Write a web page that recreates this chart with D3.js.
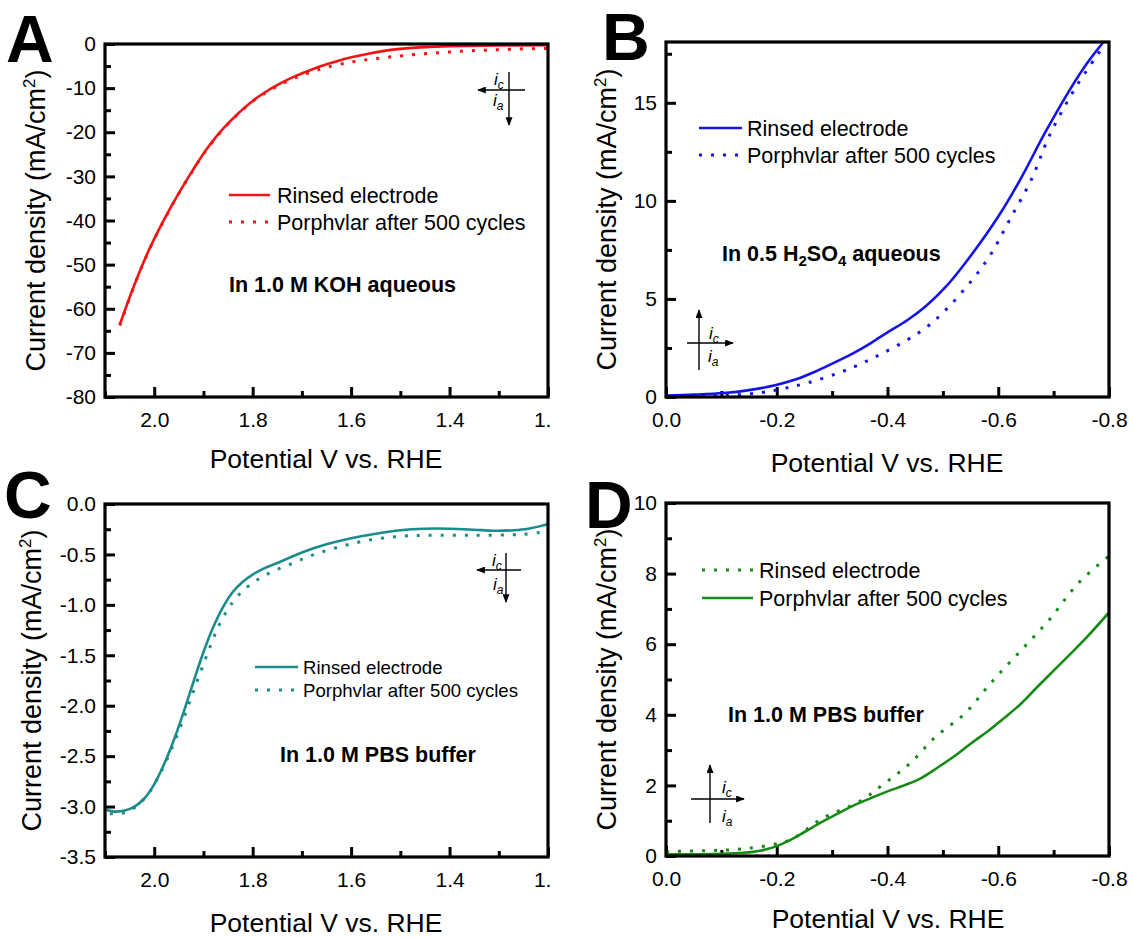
<!DOCTYPE html>
<html><head><meta charset="utf-8">
<script src="https://cdn.jsdelivr.net/npm/d3@7"></script>
<style>
body{margin:0;background:#fff}
svg{font-family:"Liberation Sans",Arial,Helvetica,sans-serif}
</style></head><body>
<svg id="fig" width="1133" height="938"></svg>
<script>
// ---------------- data ----------------
const xTicksAC = [2.0, 1.8, 1.6, 1.4, 1.2];
const xMinorAC = [2.1, 1.9, 1.7, 1.5, 1.3];
const xTicksBD = [0, -0.2, -0.4, -0.6, -0.8];
const xMinorBD = [-0.1, -0.3, -0.5, -0.7];
const yTicksA = [0, -10, -20, -30, -40, -50, -60, -70, -80];
const yMinorA = [-5, -15, -25, -35, -45, -55, -65, -75];
const yTicksB = [0, 5, 10, 15];
const yMinorB = [2.5, 7.5, 12.5, 17.5];
const yTicksC = [0, -0.5, -1.0, -1.5, -2.0, -2.5, -3.0, -3.5];
const yMinorC = [-0.25, -0.75, -1.25, -1.75, -2.25, -2.75, -3.25];
const yTicksD = [0, 2, 4, 6, 8, 10];
const yMinorD = [1, 3, 5, 7, 9];

// Panel A: 1.0 M KOH  [V vs RHE, mA/cm2]
const aRinsed = [[2.07,-63.6],[2.04,-54.5],[2.01,-46.5],[1.98,-39.8],[1.95,-33.8],[1.92,-28.3],[1.89,-23.3],[1.86,-19.2],[1.83,-15.8],[1.8,-12.9],[1.77,-10.6],[1.74,-8.7],[1.71,-7.1],[1.68,-5.8],[1.65,-4.6],[1.62,-3.6],[1.59,-2.8],[1.56,-2.1],[1.53,-1.5],[1.5,-1.1],[1.45,-0.7],[1.4,-0.5],[1.3,-0.35],[1.2,-0.3]];
const aPorph = [[2.07,-63.8],[2.04,-54.6],[2.01,-46.6],[1.98,-39.9],[1.95,-33.9],[1.92,-28.4],[1.89,-23.4],[1.86,-19.3],[1.83,-15.9],[1.8,-13.0],[1.77,-10.8],[1.74,-9.0],[1.71,-7.5],[1.68,-6.3],[1.65,-5.3],[1.6,-4.1],[1.55,-3.3],[1.5,-2.7],[1.45,-2.2],[1.4,-1.8],[1.35,-1.5],[1.3,-1.3],[1.25,-1.1],[1.2,-1.0]];
// Panel B: 0.5 H2SO4
const bRinsed = [[0,0.08],[-0.05,0.12],[-0.105,0.2],[-0.15,0.35],[-0.197,0.6],[-0.235,0.9],[-0.27,1.3],[-0.3,1.7],[-0.336,2.2],[-0.37,2.75],[-0.4,3.3],[-0.435,3.9],[-0.468,4.6],[-0.508,5.7],[-0.553,7.3],[-0.6,9.2],[-0.64,11.1],[-0.685,13.5],[-0.73,15.7],[-0.76,17.0],[-0.79,18.1]];
const bPorph = [[0,0.03],[-0.05,0.04],[-0.105,0.07],[-0.171,0.22],[-0.215,0.45],[-0.257,0.73],[-0.309,1.2],[-0.345,1.6],[-0.382,2.1],[-0.435,2.9],[-0.47,3.55],[-0.502,4.35],[-0.553,5.97],[-0.587,7.3],[-0.62,9.0],[-0.66,11.1],[-0.692,13.3],[-0.738,15.7],[-0.778,17.4],[-0.79,17.9]];
// Panel C: 1.0 M PBS (anodic)
const cRinsed = [[2.1,-3.03],[2.08,-3.05],[2.06,-3.04],[2.04,-3.0],[2.02,-2.92],[2.0,-2.78],[1.98,-2.58],[1.96,-2.34],[1.94,-2.06],[1.92,-1.76],[1.9,-1.47],[1.88,-1.22],[1.86,-1.02],[1.84,-0.87],[1.82,-0.77],[1.8,-0.7],[1.78,-0.645],[1.75,-0.585],[1.7,-0.48],[1.65,-0.4],[1.6,-0.34],[1.55,-0.295],[1.5,-0.26],[1.45,-0.245],[1.4,-0.245],[1.35,-0.255],[1.31,-0.265],[1.27,-0.26],[1.24,-0.245],[1.2,-0.2]];
const cPorph = [[2.09,-3.07],[2.07,-3.07],[2.05,-3.04],[2.03,-2.97],[2.01,-2.86],[1.99,-2.69],[1.97,-2.49],[1.95,-2.25],[1.93,-1.99],[1.91,-1.72],[1.89,-1.46],[1.87,-1.22],[1.85,-1.04],[1.83,-0.91],[1.81,-0.82],[1.79,-0.75],[1.76,-0.67],[1.72,-0.59],[1.68,-0.51],[1.62,-0.42],[1.56,-0.355],[1.5,-0.32],[1.45,-0.31],[1.35,-0.31],[1.25,-0.3],[1.2,-0.27]];
// Panel D: 1.0 M PBS (cathodic)
const dRinsed = [[0,0.13],[-0.072,0.15],[-0.138,0.2],[-0.204,0.36],[-0.23,0.5],[-0.283,1.07],[-0.349,1.54],[-0.395,2.06],[-0.441,2.63],[-0.487,3.38],[-0.54,4.04],[-0.586,4.89],[-0.639,5.79],[-0.692,6.69],[-0.744,7.72],[-0.8,8.5]];
const dPorph = [[0,0.05],[-0.05,0.05],[-0.1,0.06],[-0.14,0.09],[-0.17,0.15],[-0.2,0.28],[-0.22,0.42],[-0.25,0.68],[-0.28,0.95],[-0.31,1.2],[-0.34,1.44],[-0.37,1.64],[-0.4,1.83],[-0.43,2.0],[-0.46,2.2],[-0.49,2.5],[-0.52,2.82],[-0.55,3.18],[-0.58,3.52],[-0.61,3.9],[-0.64,4.3],[-0.67,4.78],[-0.7,5.25],[-0.73,5.72],[-0.76,6.2],[-0.8,6.9]];

const legendNames = ["Rinsed electrode", "Porphvlar after 500 cycles"];
const xTitle = "Potential V vs. RHE";

// ---------------- drawing ----------------
const svg = d3.select("#fig");
const defs = svg.append("defs");
defs.append("marker").attr("id","arr").attr("viewBox","0 0 10 8").attr("refX",9).attr("refY",4)
  .attr("markerWidth",9).attr("markerHeight",7).attr("markerUnits","userSpaceOnUse").attr("orient","auto")
  .append("path").attr("d","M0,0 L10,4 L0,8 Z").attr("fill","#000");

const DOT = "3,9";
const TICK_FS = 21;
const hy = f => d => f(d).replace("\u2212","-");

function panel(c) {
  const root = svg.append("g");
  if (c.cropRight) {
    defs.append("clipPath").attr("id","crop"+c.id).append("rect")
      .attr("x",0).attr("y",c.y0-40).attr("width",c.cropRight).attr("height",c.y1-c.y0+120);
    root.attr("clip-path","url(#crop"+c.id+")");
  }
  const x = d3.scaleLinear().domain(c.xDomain).range([c.x0, c.x1]);
  const y = d3.scaleLinear().domain(c.yDomain).range([c.y1, c.y0]);

  function styleAxis(g) {
    g.select(".domain").remove();
    g.selectAll(".tick line").attr("stroke","#000").attr("stroke-width",3);
    g.selectAll(".tick text").attr("fill","#000").attr("font-size",TICK_FS).attr("font-family","Liberation Sans, Arial, sans-serif");
  }
  root.append("g").attr("transform",`translate(0,${c.y1})`)
    .call(d3.axisBottom(x).tickValues(c.xMinor).tickSize(-6).tickFormat(""))
    .call(styleAxis);
  root.append("g").attr("transform",`translate(${c.x0},0)`)
    .call(d3.axisLeft(y).tickValues(c.yMinor).tickSize(-6).tickFormat(""))
    .call(styleAxis);
  root.append("g").attr("transform",`translate(0,${c.y1})`)
    .call(d3.axisBottom(x).tickValues(c.xTicks).tickSize(-10).tickPadding(15).tickFormat(hy(d3.format(".1f"))))
    .call(styleAxis);
  root.append("g").attr("transform",`translate(${c.x0},0)`)
    .call(d3.axisLeft(y).tickValues(c.yTicks).tickSize(-10).tickPadding(9).tickFormat(hy(c.yFormat)))
    .call(styleAxis);

  const cid = "plot"+c.id;
  defs.append("clipPath").attr("id",cid).append("rect")
    .attr("x",c.x0).attr("y",c.y0).attr("width",c.x1-c.x0).attr("height",c.y1-c.y0);
  const line = d3.line().x(d=>x(d[0])).y(d=>y(d[1])).curve(d3.curveCatmullRom.alpha(0.5));
  const pg = root.append("g").attr("clip-path",`url(#${cid})`);
  c.series.forEach(s=>{
    pg.append("path").datum(s.data).attr("d",line).attr("fill","none")
      .attr("stroke",c.color).attr("stroke-width",s.dotted?3:2.6)
      .attr("stroke-dasharray",s.dotted?DOT:null);
  });

  root.append("rect").attr("x",c.x0).attr("y",c.y0).attr("width",c.x1-c.x0).attr("height",c.y1-c.y0)
    .attr("fill","none").attr("stroke","#000").attr("stroke-width",3.2);

  root.append("text").attr("x",c.xTitleX).attr("y",c.xTitleY).attr("text-anchor","middle")
    .attr("font-size",26.5).text(xTitle);
  const yt = root.append("text").attr("transform",`translate(${c.yTitleX},${(c.y0+c.y1)/2}) rotate(-90)`)
    .attr("text-anchor","middle").attr("font-size",27);
  yt.append("tspan").text("Current density (mA/cm");
  yt.append("tspan").attr("font-size",17).attr("dy",-10).text("2");
  yt.append("tspan").attr("dy",10).text(")");

  c.legend.forEach(L=>{
    const s = c.series[L.series];
    root.append("line").attr("x1",L.lx0).attr("x2",L.lx1).attr("y1",L.y).attr("y2",L.y)
      .attr("stroke",c.color).attr("stroke-width",s.dotted?3:2.6).attr("stroke-dasharray",s.dotted?DOT:null);
    root.append("text").attr("x",L.tx).attr("y",L.y+c.legendFs*0.35).attr("font-size",c.legendFs).text(legendNames[L.name]);
  });

  const an = root.append("text").attr("x",c.note.x).attr("y",c.note.y).attr("font-size",21.5).attr("font-weight","bold");
  c.note.parts.forEach(p=>{
    const t = an.append("tspan").text(p[0]);
    if (p[1]==="sub") t.attr("font-size",15).attr("dy",5);
    else if (p[1]==="back") t.attr("dy",-5);
  });

  const ic = c.icon;
  root.append("line").attr("x1",ic.h[0]).attr("y1",ic.h[1]).attr("x2",ic.h[2]).attr("y2",ic.h[3])
    .attr("stroke","#000").attr("stroke-width",1.4).attr("marker-end","url(#arr)");
  root.append("line").attr("x1",ic.v[0]).attr("y1",ic.v[1]).attr("x2",ic.v[2]).attr("y2",ic.v[3])
    .attr("stroke","#000").attr("stroke-width",1.4).attr("marker-end","url(#arr)");
  [["c",ic.c],["a",ic.a]].forEach(([sub,pos])=>{
    const t = root.append("text").attr("x",pos[0]).attr("y",pos[1]).attr("font-size",17).attr("font-style","italic");
    t.append("tspan").text("i");
    t.append("tspan").attr("font-size",12).attr("dy",4).text(sub);
  });

  svg.append("text").attr("x",c.letter[0]).attr("y",c.letter[1]).attr("font-size",66)
    .attr("font-weight","bold").text(c.id);
}

panel({id:"A", color:"#f21414", x0:105, x1:548, y0:44, y1:397, cropRight:551,
  xDomain:[2.1,1.2], yDomain:[-80,0], xTicks:xTicksAC, xMinor:xMinorAC, yTicks:yTicksA, yMinor:yMinorA,
  yFormat:d3.format("d"), xTitleX:326, xTitleY:468, yTitleX:45,
  series:[{data:aRinsed},{data:aPorph,dotted:true}],
  legendFs:21.5,
  legend:[{series:0,name:0,lx0:229,lx1:270,tx:277,y:195},{series:1,name:1,lx0:229,lx1:270,tx:277,y:222}],
  note:{x:229,y:292,parts:[["In 1.0 M KOH aqueous"]]},
  icon:{h:[525,90,478,90],v:[509,72,509,125],c:[494,85],a:[493,106]},
  letter:[6,62]});

panel({id:"B", color:"#1414e6", x0:666, x1:1109, y0:42, y1:397,
  xDomain:[0,-0.8], yDomain:[0,18.1], xTicks:xTicksBD, xMinor:xMinorBD, yTicks:yTicksB, yMinor:yMinorB,
  yFormat:d3.format("d"), xTitleX:887, xTitleY:472, yTitleX:616,
  series:[{data:bRinsed},{data:bPorph,dotted:true}],
  legendFs:21.5,
  legend:[{series:0,name:0,lx0:699,lx1:742,tx:747,y:128},{series:1,name:1,lx0:699,lx1:742,tx:747,y:155}],
  note:{x:722,y:261,parts:[["In 0.5 H"],["2","sub"],["SO","back"],["4","sub"],[" aqueous","back"]]},
  icon:{h:[687,343,733,343],v:[699,370,699,310],c:[709,339],a:[708,362]},
  letter:[602,60]});

panel({id:"C", color:"#1a8c8c", x0:105, x1:548, y0:504, y1:857, cropRight:551,
  xDomain:[2.1,1.2], yDomain:[-3.5,0], xTicks:xTicksAC, xMinor:xMinorAC, yTicks:yTicksC, yMinor:yMinorC,
  yFormat:d3.format(".1f"), xTitleX:326, xTitleY:932, yTitleX:41,
  series:[{data:cRinsed},{data:cPorph,dotted:true}],
  legendFs:18.6,
  legend:[{series:0,name:0,lx0:255,lx1:298,tx:303,y:667},{series:1,name:1,lx0:255,lx1:298,tx:303,y:690}],
  note:{x:280,y:762,parts:[["In 1.0 M PBS buffer"]]},
  icon:{h:[521,570,477,570],v:[506,553,506,602],c:[492,566],a:[493,590]},
  letter:[4,518]});

panel({id:"D", color:"#158a15", x0:666, x1:1109, y0:503, y1:856,
  xDomain:[0,-0.8], yDomain:[0,10], xTicks:xTicksBD, xMinor:xMinorBD, yTicks:yTicksD, yMinor:yMinorD,
  yFormat:d3.format("d"), xTitleX:888, xTitleY:928, yTitleX:616,
  series:[{data:dRinsed,dotted:true},{data:dPorph}],
  legendFs:21.5,
  legend:[{series:0,name:0,lx0:702,lx1:753,tx:759,y:570},{series:1,name:1,lx0:702,lx1:753,tx:759,y:598}],
  note:{x:728,y:722,parts:[["In 1.0 M PBS buffer"]]},
  icon:{h:[691,799,744,799],v:[710,823,710,765],c:[722,793],a:[722,822]},
  letter:[585,528]});
</script>
</body></html>
